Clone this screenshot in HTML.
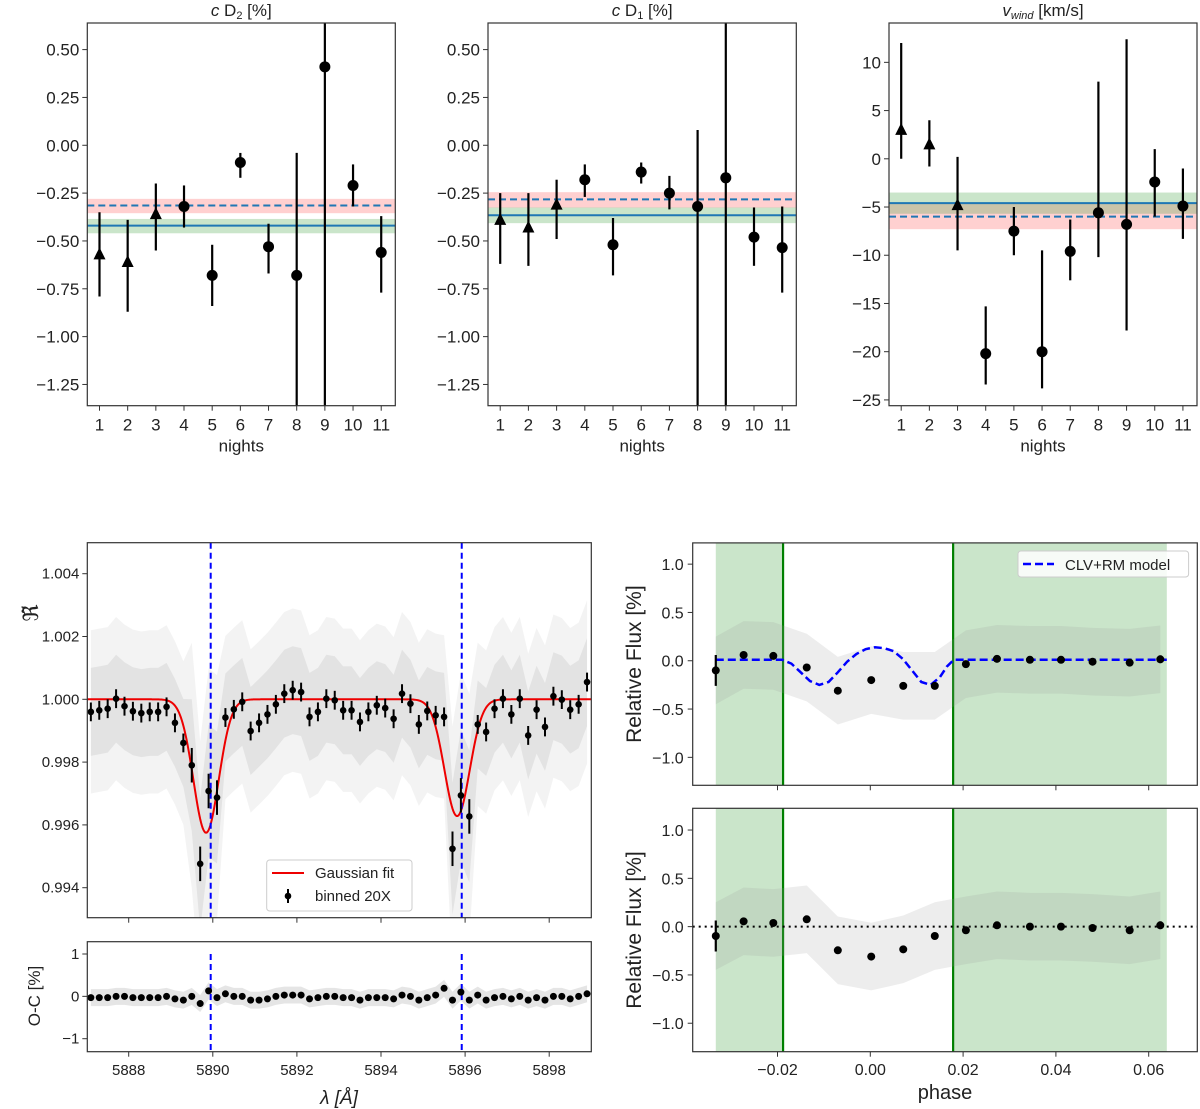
<!DOCTYPE html>
<html><head><meta charset="utf-8"><style>
html,body{margin:0;padding:0;background:#fff;}
svg{display:block;font-family:"Liberation Sans","DejaVu Sans",sans-serif;}
</style></head><body>
<svg id="fig" width="1200" height="1109" viewBox="0 0 1200 1109" xmlns="http://www.w3.org/2000/svg"></svg>
<script>
// ---------- top panel data ----------
const nights=[1,2,3,4,5,6,7,8,9,10,11];
const markerTri=[1,1,1,0,0,0,0,0,0,0,0];
const d2Val=[-0.57,-0.61,-0.36,-0.32,-0.68,-0.09,-0.53,-0.68,0.41,-0.21,-0.56];
const d2Hi=[-0.35,-0.39,-0.20,-0.21,-0.52,-0.04,-0.41,-0.04,0.70,-0.10,-0.37];
const d2Lo=[-0.79,-0.87,-0.55,-0.43,-0.84,-0.17,-0.67,-1.50,-1.50,-0.32,-0.77];
const d2Lines=[-0.315,-0.42];
const d2Bands=[[-0.28,-0.355],[-0.385,-0.46]];
const d1Val=[-0.39,-0.43,-0.31,-0.18,-0.52,-0.14,-0.25,-0.32,-0.17,-0.48,-0.535];
const d1Hi=[-0.25,-0.25,-0.18,-0.10,-0.38,-0.09,-0.16,0.08,0.70,-0.325,-0.32];
const d1Lo=[-0.62,-0.63,-0.49,-0.27,-0.68,-0.20,-0.335,-1.50,-1.50,-0.63,-0.77];
const d1Lines=[-0.283,-0.366];
const d1Bands=[[-0.245,-0.326],[-0.325,-0.407]];
const vwVal=[3,1.5,-4.8,-20.2,-7.5,-20,-9.6,-5.6,-6.8,-2.4,-4.9];
const vwHi=[12,4,0.2,-15.3,-5,-9.5,-6.3,8,12.4,1,-1];
const vwLo=[0,-0.8,-9.5,-23.4,-10,-23.8,-12.6,-10.2,-17.8,-6,-8.3];
const vwLines=[-6.0,-4.6];
const vwBands=[[-4.6,-7.3],[-3.5,-5.7]];
const d2Ticks=[0.5,0.25,0,-0.25,-0.5,-0.75,-1.0,-1.25];
const vwTicks=[10,5,0,-5,-10,-15,-20,-25];
// ---------- spectrum data ----------
const binned=[0.99960,0.99965,0.99970,1.00002,0.99978,0.99962,0.99956,0.99960,0.99960,0.99976,0.99925,0.99861,0.99790,0.99476,0.99708,0.99687,0.99942,0.99968,0.99992,0.99899,0.99925,0.99952,0.99984,1.00018,1.00029,1.00023,0.99944,0.99960,1.00002,0.99997,0.99965,0.99965,0.99928,0.99960,0.99981,0.99972,0.99938,1.00018,0.99986,0.99920,0.99963,0.99949,0.99944,0.99524,0.99694,0.99627,0.99920,0.99896,0.99970,1.00002,0.99952,1.00002,0.99885,0.99967,0.99912,1.00010,0.99999,0.99967,0.99984,1.00055];
const residual=[-0.03,-0.03,-0.03,0,0,-0.03,-0.03,-0.03,-0.03,0,-0.06,-0.09,0,-0.17,0.13,-0.03,0.06,0,0,-0.09,-0.09,-0.06,0,0.03,0.03,0.03,-0.06,-0.03,0,0,-0.03,-0.03,-0.09,-0.03,-0.03,-0.03,-0.06,0.03,0,-0.09,-0.03,0.03,0.19,-0.09,0.10,-0.09,0.03,-0.09,-0.03,0,-0.06,0,-0.09,-0.03,-0.09,0,0,-0.06,0,0.06];
const lamStart=5887.1, lamStep=0.2;
const lineCenters=[5889.95,5895.92];
const gCenters=[5889.84,5895.81];
const gDepths=[0.00425,0.00372];
const gSigma=0.3;
const specTicks=[0.994,0.996,0.998,1.000,1.002,1.004];
const lamTicks=[5888,5890,5892,5894,5896,5898];
// ---------- phase data ----------
const phases=[-0.0333,-0.0273,-0.0209,-0.0137,-0.0070,0.0002,0.0071,0.0139,0.0206,0.0273,0.0344,0.0411,0.0479,0.0559,0.0625];
const fluxTop=[-0.10,0.06,0.05,-0.07,-0.31,-0.20,-0.26,-0.26,-0.035,0.02,0.01,0.01,-0.01,-0.02,0.015];
const fluxBot=[-0.097,0.055,0.038,0.076,-0.245,-0.31,-0.235,-0.097,-0.038,0.014,0,0,-0.014,-0.038,0.014];
const fluxErr=[0.16,0.02,0.02,0.03,0.03,0.03,0.03,0.02,0.02,0.015,0.015,0.015,0.03,0.02,0.04];
const modelPh=[-0.0333,-0.019,-0.017,-0.015,-0.013,-0.011,-0.009,-0.007,-0.005,-0.003,-0.001,0.001,0.003,0.005,0.007,0.009,0.011,0.013,0.015,0.0165,0.018,0.0639];
const modelVal=[0.01,0.01,-0.03,-0.12,-0.21,-0.25,-0.22,-0.12,-0.01,0.07,0.12,0.14,0.13,0.10,0.02,-0.10,-0.22,-0.25,-0.17,-0.06,0.01,0.01];
const greenSpans=[[-0.0333,-0.0188],[0.01785,0.0639]];
const contacts=[-0.0188,0.01785];
const fluxTicks=[1.0,0.5,0.0,-0.5,-1.0];
const phaseTicks=[-0.02,0,0.02,0.04,0.06];

const NS="http://www.w3.org/2000/svg";
const svg=document.getElementById('fig');
function el(tag,attrs,parent){const e=document.createElementNS(NS,tag);for(const k in attrs)e.setAttribute(k,attrs[k]);(parent||svg).appendChild(e);return e;}
function lin(d0,d1,r0,r1){return v=>r0+(v-d0)*(r1-r0)/(d1-d0);}
function fmt2(v){let s=v.toFixed(2);return s.replace('-','\u2212');}

function topPanel(name,x0,x1,y0,y1,ylim,ticks,tickFmt,vals,his,los,lines,bands,title){
  const g=el('g',{});
  
  
  const X=lin(0.567,11.5,x0,x1), Y=lin(ylim[0],ylim[1],y1,y0);
  const cp='clip-'+name;
  const cl=el('clipPath',{id:cp},g);el('rect',{x:x0,y:y0,width:x1-x0,height:y1-y0},cl);
  const inner=el('g',{'clip-path':'url(#'+cp+')'},g);
  const cols=['rgba(255,120,120,0.35)','rgba(80,170,80,0.3)'];
  bands.forEach((b,i)=>{const r=el('rect',{x:x0,y:Y(b[0]),width:x1-x0,height:Y(b[1])-Y(b[0]),fill:cols[i]},inner);
    });
  lines.forEach((v,i)=>{const l=el('line',{x1:x0,x2:x1,y1:Y(v),y2:Y(v),stroke:'#1f77b4','stroke-width':2,'stroke-dasharray':i==0?'7,4':'none'},inner);
    });
  nights.forEach((n,i)=>{
    const e=el('line',{x1:X(n),x2:X(n),y1:Y(his[i]),y2:Y(los[i]),stroke:'#000','stroke-width':2.2},inner);
    
    const cx=X(n),cy=Y(vals[i]);let m;
    if(markerTri[i]) m=el('polygon',{points:`${cx},${cy-7} ${cx-6},${cy+5} ${cx+6},${cy+5}`,fill:'#000'},inner);
    else m=el('circle',{cx:cx,cy:cy,r:5.5,fill:'#000'},inner);
    
  });
  el('rect',{x:x0,y:y0,width:x1-x0,height:y1-y0,fill:'none',stroke:'#333','stroke-width':1.2},g);
  ticks.forEach(t=>{el('line',{x1:x0-5,x2:x0,y1:Y(t),y2:Y(t),stroke:'#333'},g);
    const tx=el('text',{x:x0-8,y:Y(t)+6,'text-anchor':'end','font-size':17,fill:'#222'},g);tx.textContent=tickFmt(t);
    });
  nights.forEach(n=>{el('line',{x1:X(n),x2:X(n),y1:y1,y2:y1+5,stroke:'#333'},g);
    const tx=el('text',{x:X(n),y:y1+25,'text-anchor':'middle','font-size':17,fill:'#222'},g);tx.textContent=n;
    });
  const xl=el('text',{x:(x0+x1)/2,y:y1+46,'text-anchor':'middle','font-size':17,fill:'#222'},g);xl.textContent='nights';
  
  const tt=el('text',{x:(x0+x1)/2,y:16,'text-anchor':'middle','font-size':17,fill:'#222'},g);tt.innerHTML=title;
  
}
topPanel('panel-c-d2',87.3,395.3,23,405.7,[-1.361,0.639],d2Ticks,fmt2,d2Val,d2Hi,d2Lo,d2Lines,d2Bands,'<tspan font-style="italic">c</tspan> D<tspan font-size="11" dy="3">2</tspan><tspan dy="-3"> [%]</tspan>');
topPanel('panel-c-d1',488,796.3,23,405.7,[-1.361,0.639],d2Ticks,fmt2,d1Val,d1Hi,d1Lo,d1Lines,d1Bands,'<tspan font-style="italic">c</tspan> D<tspan font-size="11" dy="3">1</tspan><tspan dy="-3"> [%]</tspan>');
topPanel('panel-vwind',889,1197,23,405.7,[-25.6,14.08],vwTicks,t=>String(t).replace('-','\u2212'),vwVal,vwHi,vwLo,vwLines,vwBands,'<tspan font-style="italic">v</tspan><tspan font-style="italic" font-size="11" dy="3">wind</tspan><tspan dy="-3"> [km/s]</tspan>');

// ---------- spectrum panel ----------
(function(){
  const x0=87.3,x1=591.3,y0=542.7,y1=917.7;
  const g=el('g',{});
  const X=lin(5890,5898,212.8,549.2), Y=lin(0.994,1.004,887.7,573.7);
  const cl=el('clipPath',{id:'clip-spec'},g);el('rect',{x:x0,y:y0,width:x1-x0,height:y1-y0},cl);
  const inner=el('g',{'clip-path':'url(#clip-spec)'},g);
  const lam=binned.map((v,i)=>lamStart+i*lamStep);
  [[0.0026,0.10],[0.0014,0.14]].forEach(([w,o])=>{
    let d='M'+lam.map((l,i)=>X(l)+','+Y(binned[i]+w*(Math.abs(binned[i]-1)>0.0015?1.5:1))).join(' L');
    d+=' L'+lam.slice().reverse().map((l,j)=>{const i=lam.length-1-j;return X(l)+','+Y(binned[i]-w*(Math.abs(binned[i]-1)>0.0015?1.5:1));}).join(' L')+'Z';
    const p=el('path',{d:d,fill:'#888','fill-opacity':o},inner);
  });
  const fit=l=>1-gDepths[0]*Math.exp(-((l-gCenters[0])**2)/(2*gSigma*gSigma))-gDepths[1]*Math.exp(-((l-gCenters[1])**2)/(2*gSigma*gSigma));
  let pts=[];for(let l=5887;l<=5899.01;l+=0.02)pts.push(X(l)+','+Y(fit(l)));
  const f=el('polyline',{points:pts.join(' '),fill:'none',stroke:'#e00','stroke-width':2},inner);
  
  lineCenters.forEach(c=>{const l=el('line',{x1:X(c),x2:X(c),y1:y0,y2:y1,stroke:'#00f','stroke-width':2,'stroke-dasharray':'6,4'},inner);
    });
  lam.forEach((l,i)=>{const e=Math.abs(binned[i]-1)>0.0015?0.00055:0.0003;
    el('line',{x1:X(l),x2:X(l),y1:Y(binned[i]+e),y2:Y(binned[i]-e),stroke:'#000','stroke-width':2},inner);
    const c=el('circle',{cx:X(l),cy:Y(binned[i]),r:3.3,fill:'#000'},inner);
    });
  el('rect',{x:x0,y:y0,width:x1-x0,height:y1-y0,fill:'none',stroke:'#333','stroke-width':1.2},g);
  specTicks.forEach(t=>{el('line',{x1:x0-5,x2:x0,y1:Y(t),y2:Y(t),stroke:'#333'},g);
    const tx=el('text',{x:x0-8,y:Y(t)+5,'text-anchor':'end','font-size':15,fill:'#222'},g);tx.textContent=t.toFixed(3);
    });
  lamTicks.forEach(t=>el('line',{x1:X(t),x2:X(t),y1:y1,y2:y1+5,stroke:'#333'},g));
  const yl=el('text',{x:0,y:0,'text-anchor':'middle','font-size':21,fill:'#222',transform:'translate(38,613) rotate(-90)','font-family':'DejaVu Serif, serif'},g);yl.textContent='\u211C\u0303';
  
  const lg=el('g',{},g);
  el('rect',{x:266.7,y:860,width:145.3,height:51,rx:3,fill:'#fff','fill-opacity':0.85,stroke:'#ccc'},lg);
  el('line',{x1:272,x2:304,y1:873,y2:873,stroke:'#e00','stroke-width':2},lg);
  let t=el('text',{x:315,y:878,'font-size':15,fill:'#222'},lg);t.textContent='Gaussian fit';
  el('line',{x1:288,x2:288,y1:889,y2:903,stroke:'#000','stroke-width':2},lg);el('circle',{cx:288,cy:896,r:3.3,fill:'#000'},lg);
  t=el('text',{x:315,y:901,'font-size':15,fill:'#222'},lg);t.textContent='binned 20X';
})();

// ---------- residual panel ----------
(function(){
  const x0=87.3,x1=591.3,y0=941.7,y1=1051.7;
  const g=el('g',{});
  const X=lin(5890,5898,212.8,549.2), Y=lin(-1,1,1038.7,954);
  const cl=el('clipPath',{id:'clip-res'},g);el('rect',{x:x0,y:y0,width:x1-x0,height:y1-y0},cl);
  const inner=el('g',{'clip-path':'url(#clip-res)'},g);
  const lam=residual.map((v,i)=>lamStart+i*lamStep);
  let d='M'+lam.map((l,i)=>X(l)+','+Y(residual[i]+0.2)).join(' L')+' L'+lam.slice().reverse().map((l,j)=>X(l)+','+Y(residual[lam.length-1-j]-0.2)).join(' L')+'Z';
  const p=el('path',{d:d,fill:'#999','fill-opacity':0.25},inner);
  lineCenters.forEach(c=>{const l=el('line',{x1:X(c),x2:X(c),y1:Y(1),y2:y1,stroke:'#00f','stroke-width':2,'stroke-dasharray':'6,4'},inner);
    });
  lam.forEach((l,i)=>{const c=el('circle',{cx:X(l),cy:Y(residual[i]),r:3.5,fill:'#000'},inner);
    });
  el('rect',{x:x0,y:y0,width:x1-x0,height:y1-y0,fill:'none',stroke:'#333','stroke-width':1.2},g);
  [1,0,-1].forEach(t=>{el('line',{x1:x0-5,x2:x0,y1:Y(t),y2:Y(t),stroke:'#333'},g);
    const tx=el('text',{x:x0-8,y:Y(t)+5,'text-anchor':'end','font-size':15,fill:'#222'},g);tx.textContent=String(t).replace('-','\u2212');
    });
  lamTicks.forEach(t=>{el('line',{x1:X(t),x2:X(t),y1:y1,y2:y1+5,stroke:'#333'},g);
    const tx=el('text',{x:X(t),y:1075,'text-anchor':'middle','font-size':15,fill:'#222'},g);tx.textContent=t;
    });
  const yl=el('text',{x:0,y:0,'text-anchor':'middle','font-size':17,fill:'#222',transform:'translate(40,996) rotate(-90)'},g);yl.textContent='O-C [%]';
  
  const xl=el('text',{x:339,y:1104,'text-anchor':'middle','font-size':19,fill:'#222','font-style':'italic'},g);xl.textContent='\u03BB [\u00C5]';
  
})();

// ---------- phase panels ----------
function phasePanel(name,y0,y1,vals,withModel){
  const x0=692.7,x1=1197.3;
  const g=el('g',{});
  const X=lin(0,0.06,870.3,1148.7);
  const zero=y0+(y1-y0)*(1.23/2.53);
  const Y=v=>zero-v*96.6;
  const cp='clip-'+name;const cl=el('clipPath',{id:cp},g);el('rect',{x:x0,y:y0,width:x1-x0,height:y1-y0},cl);
  const inner=el('g',{'clip-path':'url(#'+cp+')'},g);
  greenSpans.forEach(s=>{const r=el('rect',{x:X(s[0]),y:y0,width:X(s[1])-X(s[0]),height:y1-y0,fill:'rgba(80,170,80,0.3)'},inner);
    });
  contacts.forEach(c=>{const l=el('line',{x1:X(c),x2:X(c),y1:y0,y2:y1,stroke:'#008000','stroke-width':2.2},inner);
    });
  let d='M'+phases.map((p,i)=>X(p)+','+Y(vals[i]+0.35)).join(' L')+' L'+phases.slice().reverse().map((p,j)=>X(p)+','+Y(vals[phases.length-1-j]-0.35)).join(' L')+'Z';
  const sp=el('path',{d:d,fill:'#999','fill-opacity':0.18},inner);
  if(withModel){
    const m=el('polyline',{points:modelPh.map((p,i)=>X(p)+','+Y(modelVal[i])).join(' '),fill:'none',stroke:'#00f','stroke-width':2.5,'stroke-dasharray':'8,4'},inner);
    
  } else {
    const z=el('line',{x1:x0,x2:x1,y1:Y(0),y2:Y(0),stroke:'#000','stroke-width':2,'stroke-dasharray':'2,4'},inner);
    
  }
  phases.forEach((p,i)=>{
    el('line',{x1:X(p),x2:X(p),y1:Y(vals[i]+fluxErr[i]),y2:Y(vals[i]-fluxErr[i]),stroke:'#000','stroke-width':2.2},inner);
    const c=el('circle',{cx:X(p),cy:Y(vals[i]),r:4,fill:'#000'},inner);
    });
  el('rect',{x:x0,y:y0,width:x1-x0,height:y1-y0,fill:'none',stroke:'#333','stroke-width':1.2},g);
  fluxTicks.forEach(t=>{el('line',{x1:x0-5,x2:x0,y1:Y(t),y2:Y(t),stroke:'#333'},g);
    const tx=el('text',{x:x0-9,y:Y(t)+6,'text-anchor':'end','font-size':16,fill:'#222'},g);tx.textContent=t.toFixed(1).replace('-','\u2212');
    });
  phaseTicks.forEach(t=>el('line',{x1:X(t),x2:X(t),y1:y1,y2:y1+5,stroke:'#333'},g));
  const yl=el('text',{x:0,y:0,'text-anchor':'middle','font-size':21,fill:'#222',transform:`translate(641,${(y0+y1)/2}) rotate(-90)`},g);yl.textContent='Relative Flux [%]';
  
  return X;
}
phasePanel('phase-panel-model',542.9,785.3,fluxTop,true);
const PX=phasePanel('phase-panel-residual',808.3,1051.7,fluxBot,false);
phaseTicks.forEach(t=>{const tx=el('text',{x:PX(t),y:1075,'text-anchor':'middle','font-size':16,fill:'#222'});tx.textContent=(t===0?'0.00':t.toFixed(2)).replace('-','\u2212');
  });
const ph=el('text',{x:945,y:1099,'text-anchor':'middle','font-size':20,fill:'#222'});ph.textContent='phase';


const lg=el('g',{});


el('rect',{x:1018,y:551,width:170.6,height:26,rx:3,fill:'#fff','fill-opacity':0.85,stroke:'#ccc'},lg);
el('line',{x1:1023,x2:1054,y1:564,y2:564,stroke:'#00f','stroke-width':2.5,'stroke-dasharray':'8,4'},lg);
const lt=el('text',{x:1065,y:570,'font-size':15,fill:'#222'},lg);lt.textContent='CLV+RM model';
</script>
</body></html>
